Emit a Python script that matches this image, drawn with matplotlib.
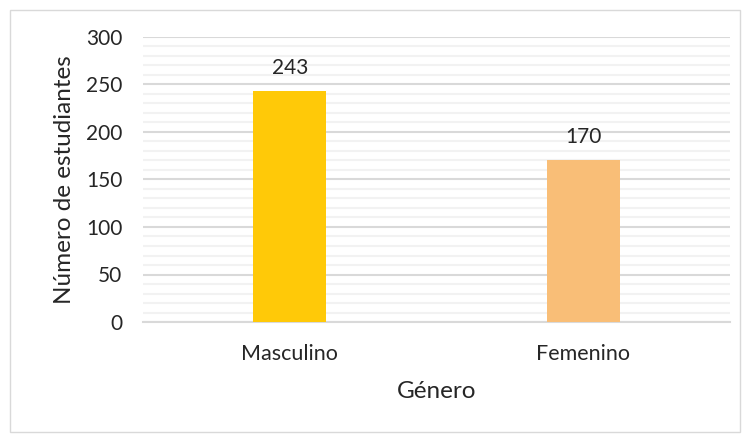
import matplotlib
matplotlib.use("Agg")
import matplotlib.pyplot as plt
from matplotlib.patches import Rectangle
from matplotlib.ticker import MultipleLocator

categories = ["Masculino", "Femenino"]
values = [243, 170]
colors = ["#FFC908", "#F9BE77"]
y_ticks = [0, 50, 100, 150, 200, 250, 300]

plt.rcParams['font.family'] = ['Lato', 'DejaVu Sans']

fig = plt.figure(figsize=(7.5, 4.41), dpi=100)
ax = fig.add_axes([143/750, 1-322/441, (730-143)/750, (322-37)/441])

x = list(range(len(categories)))
bars = ax.bar(x, values, width=0.25, color=colors, zorder=3)
for xi, v in zip(x, values):
    ax.text(xi, v + 14, str(v), ha='center', va='bottom', fontsize=15, color='#262626')

ax.set_xlim(-0.5, 1.5)
ax.set_ylim(0, 300)
ax.set_yticks(y_ticks)
ax.yaxis.set_minor_locator(MultipleLocator(10))
ax.set_xticks(x)
ax.set_xticklabels(categories)
ax.tick_params(axis='both', length=0, colors='#262626')
ax.tick_params(axis='y', labelsize=15, pad=15)
ax.tick_params(axis='x', labelsize=15.5, pad=16)
ax.tick_params(axis='y', which='minor', length=0)
ax.grid(axis='y', which='major', color='#D9D9D9', linewidth=1.5, zorder=0)
ax.grid(axis='y', which='minor', color='#F2F2F2', linewidth=1.5, zorder=0)
for s in ['top', 'right', 'left']:
    ax.spines[s].set_visible(False)
ax.spines['bottom'].set_color('#D9D9D9')
ax.spines['bottom'].set_linewidth(1.5)

ax.set_xlabel("Género", fontsize=17.5, color='#262626', labelpad=12)
ax.set_ylabel("Número de estudiantes", fontsize=17.5, color='#262626', labelpad=8)

fig.patches.append(Rectangle((10/750, 1-432/441), 730/750, 422/441, transform=fig.transFigure,
                             fill=False, edgecolor='#D9D9D9', linewidth=1))

fig.savefig("out.png", dpi=100)
